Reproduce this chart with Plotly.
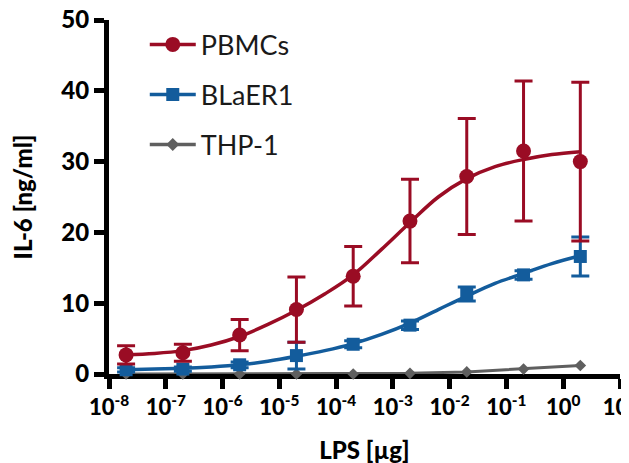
import plotly.graph_objects as go

# ---- data ----
lps_ug = [2e-8, 2e-7, 2e-6, 2e-5, 2e-4, 2e-3, 2e-2, 2e-1, 2e0]

pbmc_mean = [2.7, 3.0, 5.5, 9.1, 13.8, 21.6, 27.9, 31.5, 30.0]
pbmc_err = [1.3, 1.2, 2.2, 4.6, 4.2, 5.9, 8.2, 9.9, 11.2]

blaer_mean = [0.6, 0.7, 1.3, 2.6, 4.2, 6.9, 11.3, 14.0, 16.6]
blaer_err = [0.3, 0.3, 0.4, 1.9, 0.5, 0.6, 1.0, 0.6, 2.75]

thp_mean = [0.0, 0.0, 0.0, 0.0, 0.0, 0.1, 0.3, 0.7, 1.2]

# fitted curves, read at half-decade steps
fit_x = [2e-8, 6.3e-8, 2e-7, 6.3e-7, 2e-6, 6.3e-6, 2e-5, 6.3e-5, 2e-4,
         6.3e-4, 2e-3, 6.3e-3, 2e-2, 6.3e-2, 2e-1, 6.3e-1, 2.0]
pbmc_fit = [2.7, 2.9, 3.3, 4.1, 5.3, 7.0, 9.0, 11.3, 14.0,
            17.6, 21.4, 25.0, 27.6, 29.3, 30.3, 31.0, 31.4]
blaer_fit = [0.6, 0.7, 0.8, 1.0, 1.3, 1.8, 2.5, 3.3, 4.3,
             5.6, 7.2, 9.1, 11.0, 12.8, 14.2, 15.6, 16.7]

x_tickvals = [1e-8, 1e-7, 1e-6, 1e-5, 1e-4, 1e-3, 1e-2, 1e-1, 1e0, 1e1]
x_ticktext = ["-8", "-7", "-6", "-5", "-4", "-3", "-2", "-1", "0", "1"]
y_tickvals = [0, 10, 20, 30, 40, 50]

series_names = ["PBMCs", "BLaER1", "THP-1"]

RED = "#9A0C24"
BLUE = "#135C9C"
GREY = "#5F5F5F"
FONT = "Lato"

fig = go.Figure()

# THP-1 (bottom layer)
fig.add_trace(go.Scatter(x=lps_ug, y=thp_mean, mode="lines+markers",
                         line=dict(color=GREY, width=3),
                         marker=dict(symbol="diamond", size=9, color=GREY),
                         cliponaxis=False, showlegend=False))

# BLaER1
fig.add_trace(go.Scatter(x=fit_x, y=blaer_fit, mode="lines", line_shape="spline",
                         line=dict(color=BLUE, width=3.5), showlegend=False))
fig.add_trace(go.Scatter(x=lps_ug, y=blaer_mean, mode="markers",
                         marker=dict(symbol="square", size=13, color=BLUE),
                         error_y=dict(type="data", array=blaer_err, color=BLUE,
                                      thickness=3, width=9),
                         cliponaxis=False, showlegend=False))

# PBMCs
fig.add_trace(go.Scatter(x=fit_x, y=pbmc_fit, mode="lines", line_shape="spline",
                         line=dict(color=RED, width=3.5), showlegend=False))
fig.add_trace(go.Scatter(x=lps_ug, y=pbmc_mean, mode="markers",
                         marker=dict(symbol="circle", size=15, color=RED),
                         error_y=dict(type="data", array=pbmc_err, color=RED,
                                      thickness=3, width=9),
                         cliponaxis=False, showlegend=False))

# legend entries
for name, col, sym, sz in zip(series_names, [RED, BLUE, GREY],
                              ["circle", "square", "diamond"], [15, 13, 10]):
    fig.add_trace(go.Scatter(x=[None], y=[None], mode="lines+markers", name=name,
                             legendgroup=name,
                             line=dict(color=col, width=3.5),
                             marker=dict(symbol=sym, size=sz, color=col)))

fig.update_layout(
    width=629, height=463,
    margin=dict(l=101, r=17, t=12, b=97),
    paper_bgcolor="white", plot_bgcolor="white",
    font=dict(family=FONT, color="black"),
    showlegend=True,
    legend=dict(x=0.07, y=0.999, xanchor="left", yanchor="top",
                font=dict(size=27, color="#1a1a1a", family=FONT),
                itemwidth=46,
                tracegroupgap=12, bgcolor="rgba(0,0,0,0)"),
    xaxis=dict(type="log", range=[-8, 1], automargin=False,
               tickvals=x_tickvals,
               ticktext=["10<sup>%s</sup>" % t for t in x_ticktext],
               ticks="outside", ticklen=10, tickwidth=5, tickcolor="black",
               showline=True, linewidth=5, linecolor="black",
               showgrid=False, zeroline=False, layer="below traces",
               ticklabeloverflow="allow",
               tickfont=dict(size=22, family=FONT, color="black", weight=900),
               title=dict(text="LPS [µg]",
                          font=dict(size=24, family=FONT, weight=900),
                          standoff=24)),
    yaxis=dict(range=[0, 50.001], tickvals=y_tickvals, automargin=False,
               ticktext=["%d" % v for v in y_tickvals],
               ticks="outside", ticklen=10, tickwidth=5, tickcolor="black",
               showline=True, linewidth=5, linecolor="black",
               showgrid=False, zeroline=False, layer="below traces",
               ticklabeloverflow="allow",
               tickfont=dict(size=24, family=FONT, color="black", weight=900),
               title=dict(text="IL-6 [ng/ml]",
                          font=dict(size=24, family=FONT, weight=900),
                          standoff=24)),
)

fig.write_html("out.html")
